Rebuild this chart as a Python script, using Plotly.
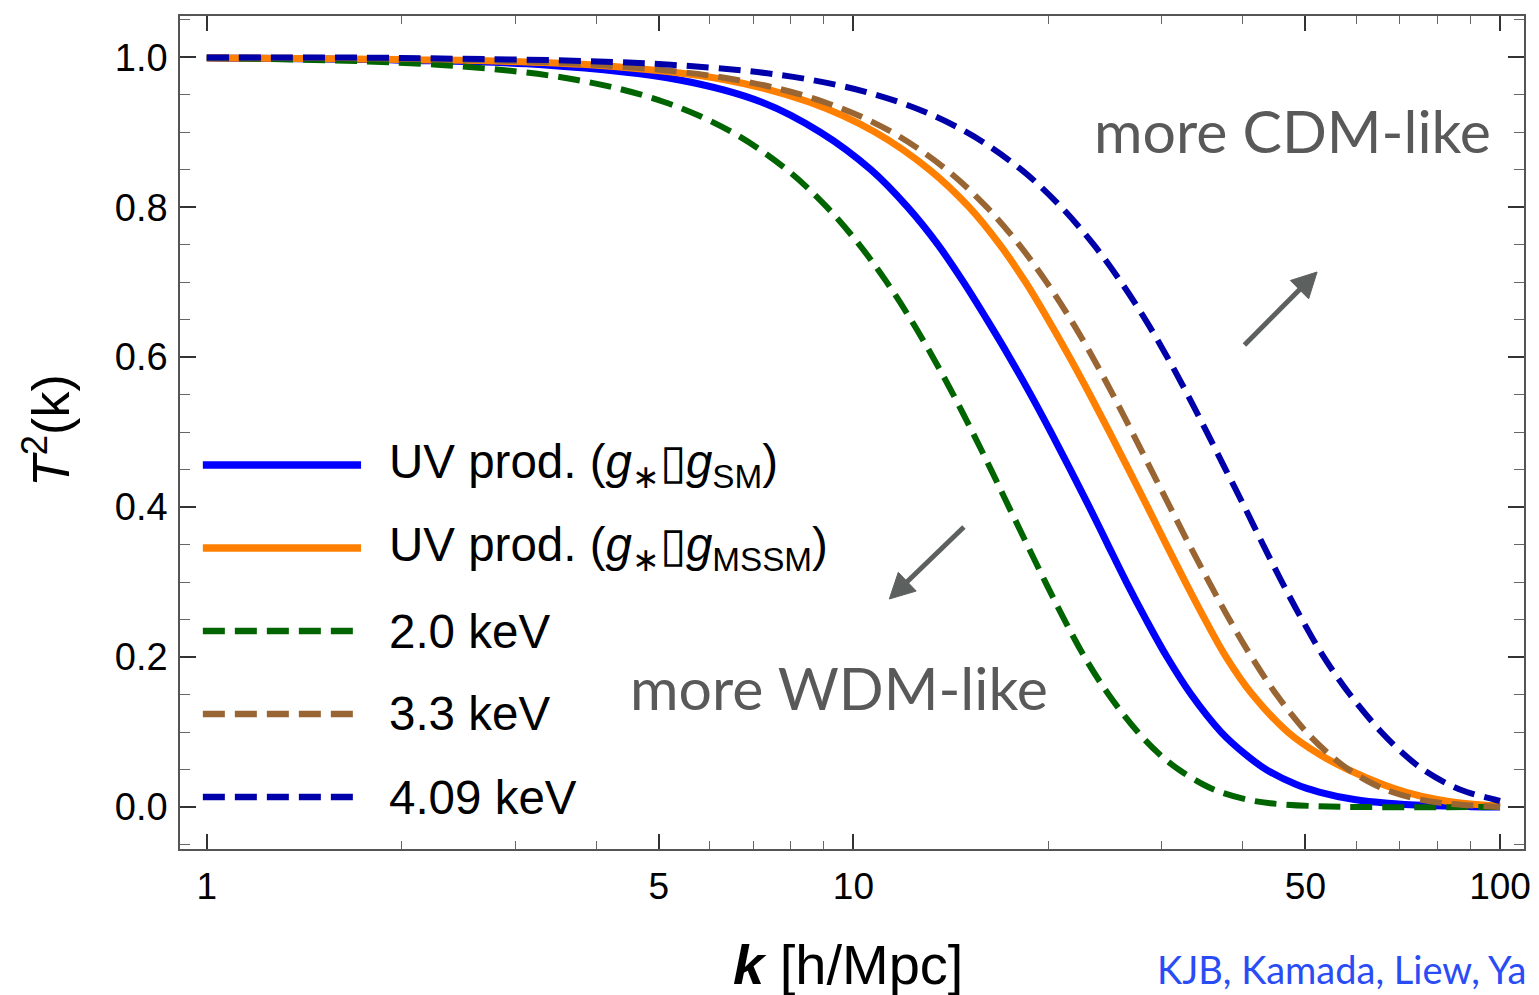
import math
import plotly.graph_objects as go

# ---- transfer functions T^2(k), k in h/Mpc ----
uv_sm_k = [1.0, 2.0, 3.30, 5.36, 7.22, 8.89, 10.64, 12.13, 13.51, 14.80, 16.09, 17.43, 18.80,
           20.20, 21.65, 23.17, 24.74, 26.43, 28.35, 30.55, 33.29, 37.03, 40.42, 43.47, 48.41,
           52.52, 59.53, 67.04, 77.2, 90.0, 100.0]
uv_sm_t2 = [0.999, 0.996, 0.99, 0.97, 0.94, 0.90, 0.85, 0.80, 0.75, 0.70, 0.65, 0.60, 0.55,
            0.50, 0.45, 0.40, 0.35, 0.30, 0.25, 0.20, 0.15, 0.10, 0.07, 0.05, 0.03,
            0.02, 0.01, 0.005, 0.002, 0.0005, 0.0]

uv_mssm_k = [1.0, 2.0, 3.91, 6.33, 8.56, 10.81, 13.11, 15.10, 16.84, 18.46, 20.01, 21.59, 23.21,
             24.89, 26.65, 28.51, 30.47, 32.61, 34.98, 37.71, 41.40, 46.97, 52.61, 58.16, 65.90,
             71.39, 79.89, 87.36, 97.2, 100.0]
uv_mssm_t2 = [0.999, 0.997, 0.99, 0.97, 0.94, 0.90, 0.85, 0.80, 0.75, 0.70, 0.65, 0.60, 0.55,
              0.50, 0.45, 0.40, 0.35, 0.30, 0.25, 0.20, 0.15, 0.10, 0.07, 0.05, 0.03,
              0.02, 0.01, 0.005, 0.002, 0.001]

wdm20_k = [1.0, 2.27, 3.72, 5.11, 6.49, 7.89, 9.10, 10.21, 11.26, 12.27, 13.27, 14.27, 15.28,
           16.32, 17.40, 18.56, 19.81, 21.19, 22.78, 24.81, 27.53, 29.77, 31.84, 34.75, 36.92,
           40.56, 44.10, 52.2, 60.0, 100.0]
wdm20_t2 = [0.999, 0.99, 0.97, 0.94, 0.90, 0.85, 0.80, 0.75, 0.70, 0.65, 0.60, 0.55, 0.50,
            0.45, 0.40, 0.35, 0.30, 0.25, 0.20, 0.15, 0.10, 0.07, 0.05, 0.03, 0.02,
            0.01, 0.005, 0.001, 0.0, 0.0]

wdm33_k = [1.0, 2.0, 4.00, 6.58, 9.03, 11.47, 13.93, 16.08, 18.04, 19.89, 21.68, 23.44, 25.19,
           26.98, 28.86, 30.88, 33.06, 35.48, 38.15, 41.29, 45.10, 50.18, 54.50, 58.30, 63.89,
           68.06, 75.09, 82.02, 100.0]
wdm33_t2 = [0.9995, 0.998, 0.99, 0.97, 0.94, 0.90, 0.85, 0.80, 0.75, 0.70, 0.65, 0.60, 0.55,
            0.50, 0.45, 0.40, 0.35, 0.30, 0.25, 0.20, 0.15, 0.10, 0.07, 0.05, 0.03,
            0.02, 0.01, 0.005, 0.0]

wdm409_k = [1.0, 2.0, 5.22, 8.58, 11.78, 14.96, 18.18, 20.97, 23.53, 25.94, 28.28, 30.58, 32.87,
            35.20, 37.64, 40.27, 43.0, 46.0, 49.4, 53.4, 58.6, 65.5, 71.1, 76.0, 83.3,
            88.8, 98.0, 100.0]
wdm409_t2 = [0.9995, 0.999, 0.99, 0.97, 0.94, 0.90, 0.85, 0.80, 0.75, 0.70, 0.65, 0.60, 0.55,
             0.50, 0.45, 0.40, 0.35, 0.30, 0.25, 0.20, 0.15, 0.10, 0.07, 0.05, 0.03,
             0.02, 0.01, 0.008]

labels = ["UV prod. (<i>g</i><sub>∗</sub>▯<i>g</i><sub>SM</sub>)",
          "UV prod. (<i>g</i><sub>∗</sub>▯<i>g</i><sub>MSSM</sub>)",
          "2.0 keV", "3.3 keV", "4.09 keV"]
colors = ["#0000ff", "#ff8000", "#006400", "#996633", "#0000aa"]
dashes = ["solid", "solid", "22px,10px", "22px,10px", "22px,10px"]
widths = [7, 7, 6, 6, 6]

x_ticks = [1, 5, 10, 50, 100]
x_minor = [2, 3, 4, 6, 7, 8, 9, 20, 30, 40, 60, 70, 80, 90]
y_ticks = [0.0, 0.2, 0.4, 0.6, 0.8, 1.0]

series = [(uv_sm_k, uv_sm_t2), (uv_mssm_k, uv_mssm_t2), (wdm20_k, wdm20_t2),
          (wdm33_k, wdm33_t2), (wdm409_k, wdm409_t2)]

fig = go.Figure()
for (kk, tt), name, c, d, w in zip(series, labels, colors, dashes, widths):
    fig.add_trace(go.Scatter(x=kk, y=tt, mode="lines", name=name, showlegend=False,
                             line=dict(color=c, dash=d, width=w, shape="spline", smoothing=1.0)))

FONT = "Liberation Sans, Arial, Helvetica, sans-serif"
HUMANIST = "Lato, Open Sans, sans-serif"

# page geometry of the plotting frame (pixels)
FRAME_L, FRAME_R, FRAME_T, FRAME_B = 180, 1531, 16, 849


def paper(px, py):
    """Convert a page pixel position to paper coordinates."""
    return ((px - FRAME_L) / (FRAME_R - FRAME_L), (FRAME_B - py) / (FRAME_B - FRAME_T))


# hand-drawn legend block on the left
legend_y = [0.461, 0.3613, 0.2617, 0.1621, 0.0624]
shapes = []
annotations = []
for yy, name, c, d, w in zip(legend_y, labels, colors, dashes, widths):
    shapes.append(dict(type="line", xref="paper", yref="paper", x0=0.017, x1=0.1347,
                       y0=yy, y1=yy, line=dict(color=c, width=w + 0.5, dash=d)))
    annotations.append(dict(xref="paper", yref="paper", x=0.154, y=yy, xanchor="left",
                            yanchor="middle", text=name, showarrow=False,
                            font=dict(family=FONT, size=47.5, color="black")))

# axis titles
annotations.append(dict(xref="paper", yref="paper", x=0.497, y=-0.139, xanchor="center",
                        yanchor="middle", showarrow=False,
                        text="<b><i>k</i></b> [h/Mpc]",
                        font=dict(family=FONT, size=56, color="black")))
annotations.append(dict(xref="paper", yref="paper", x=-0.099, y=0.503, xanchor="center",
                        yanchor="middle", showarrow=False, textangle=-90,
                        text="<i>T</i><sup>2</sup>(k)",
                        font=dict(family=FONT, size=52, color="black")))

# direction hints
cx, cy = paper(1097, 130)
annotations.append(dict(xref="paper", yref="paper", x=cx, y=cy,
                        xanchor="left", yanchor="middle", showarrow=False, text="more CDM-like",
                        font=dict(family=HUMANIST, size=59, color="#595959")))
wx, wy = paper(630, 687)
annotations.append(dict(xref="paper", yref="paper", x=wx, y=wy,
                        xanchor="left", yanchor="middle", showarrow=False, text="more WDM-like",
                        font=dict(family=HUMANIST, size=59, color="#595959")))

ARROW = "#5c605e"


def arrow(tail, tip, head_len=25, head_half=13):
    (x0, y0), (x1, y1) = tail, tip
    dx, dy = x1 - x0, y1 - y0
    n = math.hypot(dx, dy)
    ux, uy = dx / n, dy / n
    bx, by = x1 - head_len * ux, y1 - head_len * uy
    px_, py_ = -uy, ux
    a, b = paper(x0, y0), paper(bx + 2 * ux, by + 2 * uy)
    shapes.append(dict(type="line", xref="paper", yref="paper", x0=a[0], y0=a[1],
                       x1=b[0], y1=b[1], line=dict(color=ARROW, width=5)))
    t = paper(x1, y1)
    c1 = paper(bx + head_half * px_, by + head_half * py_)
    c2 = paper(bx - head_half * px_, by - head_half * py_)
    shapes.append(dict(type="path", xref="paper", yref="paper",
                       path=f"M{t[0]},{t[1]} L{c1[0]},{c1[1]} L{c2[0]},{c2[1]} Z",
                       fillcolor=ARROW, line=dict(color=ARROW, width=1)))


arrow((1250, 345), (1323, 272))
arrow((968, 527), (893, 599))

# reference line at bottom right
rx, ry = paper(1160, 969)
annotations.append(dict(xref="paper", yref="paper", x=rx, y=ry,
                        xanchor="left", yanchor="middle", showarrow=False,
                        text="KJB, Kamada, Liew, Ya",
                        font=dict(family=HUMANIST, size=38, color="#2a4cf5")))

fig.update_layout(
    width=1539, height=995,
    margin=dict(l=FRAME_L, r=1539 - FRAME_R, t=FRAME_T, b=995 - FRAME_B),
    paper_bgcolor="white", plot_bgcolor="white",
    font=dict(family=FONT, color="black"),
    shapes=shapes, annotations=annotations,
    showlegend=False,
)
fig.update_xaxes(
    type="log", range=[math.log10(0.909), math.log10(108.9)],
    tickmode="array", tickvals=x_ticks, ticktext=[str(v) for v in x_ticks],
    ticks="inside", ticklen=15, tickwidth=1.5, tickcolor="#333",
    showline=True, linecolor="#555", linewidth=1.5, mirror="allticks",
    showgrid=False, zeroline=False, ticklabelstandoff=4,
    tickfont=dict(family=FONT, size=37, color="black"),
    minor=dict(tickmode="array", tickvals=x_minor, ticks="inside", ticklen=8,
               tickwidth=1.2, tickcolor="#666", showgrid=False),
)
fig.update_yaxes(
    range=[-0.056, 1.055],
    tickmode="array", tickvals=y_ticks, ticktext=["%.1f" % v for v in y_ticks],
    ticks="inside", ticklen=16, tickwidth=1.5, tickcolor="#333",
    showline=True, linecolor="#555", linewidth=1.5, mirror="allticks",
    showgrid=False, zeroline=False, ticklabelstandoff=3,
    tickfont=dict(family=FONT, size=38, color="black"),
    minor=dict(tick0=0, dtick=0.05, ticks="inside", ticklen=10,
               tickwidth=1.2, tickcolor="#666", showgrid=False),
)

fig.write_html("out.html")
